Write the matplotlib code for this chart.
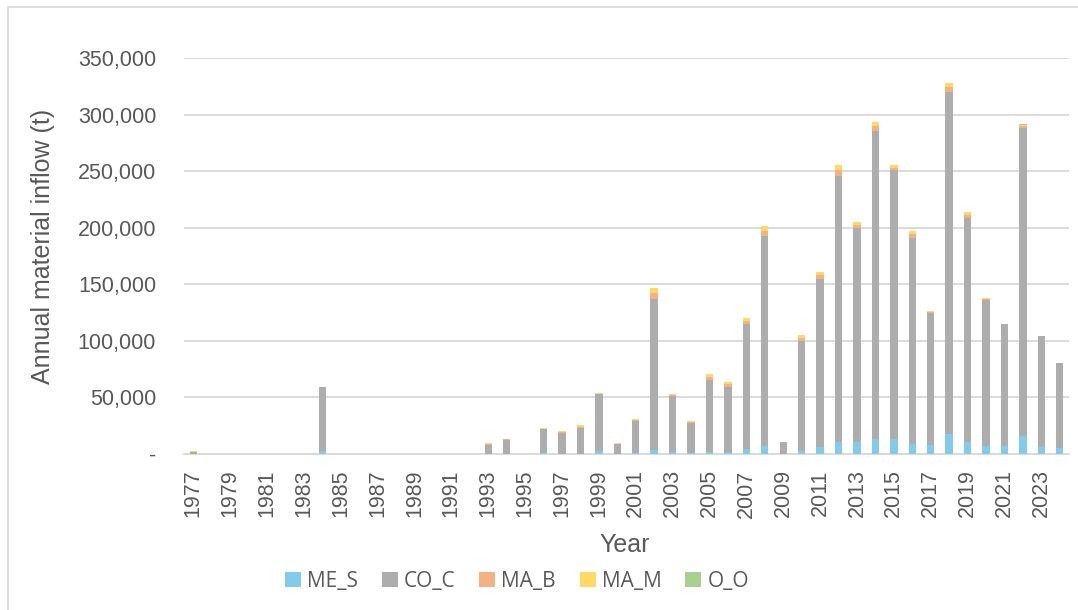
import matplotlib
matplotlib.use("Agg")
import matplotlib.pyplot as plt
import numpy as np
from matplotlib.patches import Rectangle
from matplotlib.ticker import FuncFormatter

years = list(range(1977, 2025))

# Annual inflow by material group (tonnes); years without inflow are zero
me_s = {1984: 2500, 1996: 800, 1997: 300, 1998: 300, 1999: 3000, 2001: 900,
        2002: 3300, 2003: 1500, 2004: 600, 2005: 1500, 2006: 2000, 2007: 4400,
        2008: 7400, 2010: 3000, 2011: 6200, 2012: 10300, 2013: 10900,
        2014: 13300, 2015: 13300, 2016: 8900, 2017: 8000, 2018: 18000,
        2019: 10900, 2020: 7400, 2021: 7400, 2022: 16200, 2023: 6500,
        2024: 5300}
co_c = {1977: 1800, 1984: 56500, 1993: 8300, 1994: 12700, 1996: 21400,
        1997: 18600, 1998: 23100, 1999: 50000, 2000: 8600, 2001: 28700,
        2002: 134000, 2003: 49400, 2004: 27200, 2005: 64000, 2006: 57000,
        2007: 110400, 2008: 185600, 2009: 10400, 2010: 96700, 2011: 148400,
        2012: 235400, 2013: 188800, 2014: 272300, 2015: 237700, 2016: 182000,
        2017: 116800, 2018: 302100, 2019: 198000, 2020: 128600, 2021: 107400,
        2022: 272000, 2023: 97600, 2024: 74700}
ma_b = {1977: 200, 1993: 500, 1994: 300, 1996: 300, 1997: 600, 1998: 900,
        1999: 300, 2000: 500, 2001: 600, 2002: 5100, 2003: 1200, 2004: 600,
        2005: 2400, 2006: 2700, 2007: 2600, 2008: 4400, 2010: 3000,
        2011: 3500, 2012: 5100, 2013: 2400, 2014: 4100, 2015: 2100,
        2016: 3500, 2017: 900, 2018: 4400, 2019: 2300, 2020: 900, 2021: 200,
        2022: 1500, 2023: 200}
ma_m = {1977: 500, 1993: 700, 1994: 300, 1996: 600, 1997: 900, 1998: 1500,
        1999: 300, 2000: 700, 2001: 900, 2002: 4100, 2003: 1200, 2004: 900,
        2005: 2900, 2006: 1500, 2007: 2400, 2008: 3800, 2010: 2600,
        2011: 3000, 2012: 4400, 2013: 3200, 2014: 4100, 2015: 2700,
        2016: 2700, 2017: 600, 2018: 3500, 2019: 2400, 2020: 1200, 2021: 300,
        2022: 900, 2023: 200}
o_o = {2009: 300, 2022: 1200}

series_names = ["ME_S", "CO_C", "MA_B", "MA_M", "O_O"]
series_data = [me_s, co_c, ma_b, ma_m, o_o]
series_colors = ["#83CBEB", "#ADADAD", "#F4B183", "#FFD966", "#A9D18E"]

text_color = "#595959"
grid_color = "#D9D9D9"
tick_font = "Liberation Sans"

W, H = 1078, 610
fig = plt.figure(figsize=(W / 100, H / 100), dpi=100)
fig.patch.set_facecolor("white")
# chart-area frame
fig.patches.append(Rectangle((8 / W, -0.05), 1.2, 1 - 7 / H + 0.05,
                             transform=fig.transFigure, fill=False,
                             edgecolor=grid_color, linewidth=1.2))

ax = fig.add_axes([184 / W, 1 - 454 / H, (1069 - 184) / W, (454 - 58) / H])

x = np.arange(len(years))
bottom = np.zeros(len(years))
for name, data, color in zip(series_names, series_data, series_colors):
    vals = np.array([data.get(y, 0) for y in years], dtype=float)
    ax.bar(x, vals, width=0.4, bottom=bottom, color=color, label=name,
           edgecolor="none", zorder=3)
    bottom += vals

ax.set_xlim(-0.5, len(years) - 0.5)
ax.set_ylim(0, 350000)
ax.set_yticks(np.arange(0, 350001, 50000))
ax.yaxis.set_major_formatter(FuncFormatter(lambda v, p: "-" if v == 0 else f"{int(v):,}"))
ax.grid(axis="y", color=grid_color, linewidth=1.3, zorder=0)
ax.set_axisbelow(True)

ax.set_xticks(x[::2])
ax.set_xticklabels([str(y) for y in years[::2]], rotation=90)

for side in ["top", "right", "left"]:
    ax.spines[side].set_visible(False)
ax.spines["bottom"].set_color(grid_color)
ax.spines["bottom"].set_linewidth(1.3)
ax.tick_params(axis="both", length=0, colors=text_color, labelsize=15.5)
ax.tick_params(axis="y", pad=20)
ax.tick_params(axis="x", pad=11)
for lbl in ax.get_xticklabels() + ax.get_yticklabels():
    lbl.set_fontfamily(tick_font)

ax.set_ylabel("Annual material inflow (t)", color=text_color, fontsize=18,
              fontfamily=tick_font)
ax.yaxis.set_label_coords((55 - 184) / 885, 0.523)
ax.set_xlabel("Year", color=text_color, fontsize=18, fontfamily=tick_font)
ax.xaxis.set_label_coords(0.498, (454 - 533) / 396)

handles, labels = ax.get_legend_handles_labels()
fig.legend(handles, labels, loc="center", bbox_to_anchor=(517 / W, 1 - 581 / H),
           ncol=5, frameon=False, handlelength=0.75, handleheight=0.75,
           handletextpad=0.3, columnspacing=1.15, labelcolor=text_color,
           prop={"family": "Open Sans", "size": 15})

fig.savefig("out.png", dpi=100, facecolor="white")
